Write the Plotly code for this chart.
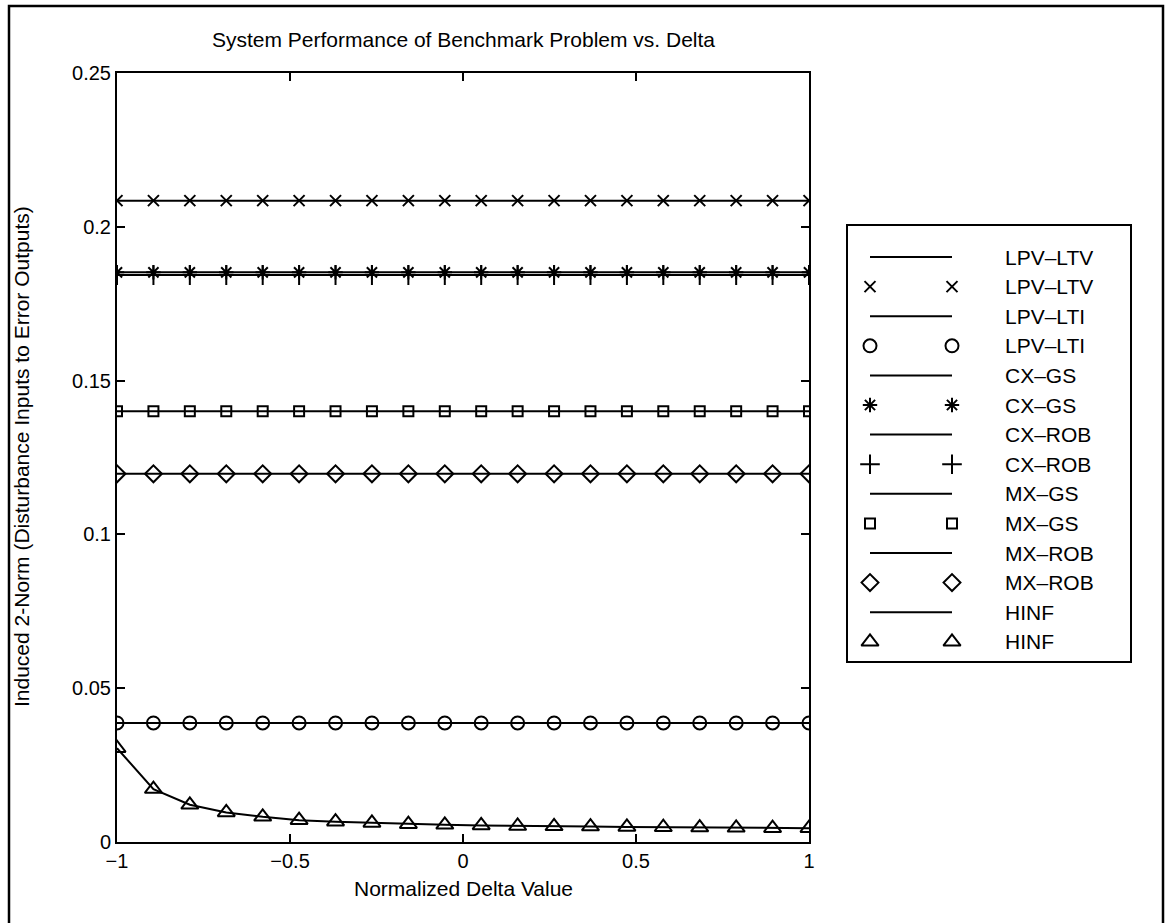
import plotly.graph_objects as go

# ---------------- data ----------------
delta = [-1.0, -0.8947, -0.7895, -0.6842, -0.5789, -0.4737, -0.3684, -0.2632,
         -0.1579, -0.0526, 0.0526, 0.1579, 0.2632, 0.3684, 0.4737, 0.5789,
         0.6842, 0.7895, 0.8947, 1.0]

lpv_ltv = [0.2085] * 20
lpv_lti = [0.0387] * 20
cx_gs = [0.1852] * 20
cx_rob = [0.1843] * 20
mx_gs = [0.1400] * 20
mx_rob = [0.1197] * 20
hinf = [0.0305, 0.0172, 0.0121, 0.0096, 0.0082, 0.0071, 0.0066, 0.0062,
        0.0058, 0.0056, 0.0054, 0.0052, 0.0051, 0.0050, 0.0049, 0.0048,
        0.0047, 0.0046, 0.0045, 0.0045]

series_names = ["LPV–LTV", "LPV–LTI", "CX–GS", "CX–ROB", "MX–GS", "MX–ROB", "HINF"]
series_values = [lpv_ltv, lpv_lti, cx_gs, cx_rob, mx_gs, mx_rob, hinf]
series_symbols = ["x-thin-open", "circle-open", "asterisk-open", "cross-thin-open",
                  "square-open", "diamond-open", "triangle-up-open"]
series_msize = [11, 13, 12, 14, 10, 13, 15]

x_ticks = [-1, -0.5, 0, 0.5, 1]
x_ticklabels = ["−1", "−0.5", "0", "0.5", "1"]
y_ticks = [0, 0.05, 0.1, 0.15, 0.2, 0.25]
y_ticklabels = ["0", "0.05", "0.1", "0.15", "0.2", "0.25"]

title_text = "System Performance of Benchmark Problem vs. Delta"
x_title = "Normalized Delta Value"
y_title = "Induced 2-Norm (Disturbance Inputs to Error Outputs)"

# ---------------- layout constants ----------------
W, H = 1165, 923
FONT = "Liberation Sans, Arial, Helvetica, sans-serif"
FS = 21
FS_TICK = 20
LW = 2


def px_x(p):
    return p / W


def px_y(p):
    return 1 - p / H


fig = go.Figure()

for name, vals, sym, ms in zip(series_names, series_values, series_symbols, series_msize):
    fig.add_trace(go.Scatter(
        x=delta, y=vals, mode="lines+markers", name=name, showlegend=False,
        line=dict(color="black", width=LW),
        marker=dict(symbol=sym, size=ms, color="black",
                    line=dict(color="black", width=LW)),
        xaxis="x", yaxis="y"))

# ---------------- hand-made MATLAB style legend (second axes) ----------------
LEG_W, LEG_H = 282, 435          # legend box in px
row0, row_step = 31, 29.6
seg_x0, seg_x1, text_x = 22, 104, 155

annotations = []
for i, (name, sym, ms) in enumerate(zip(series_names, series_symbols, series_msize)):
    y_line = row0 + (2 * i) * row_step
    y_mark = row0 + (2 * i + 1) * row_step
    fig.add_trace(go.Scatter(
        x=[seg_x0, seg_x1], y=[y_line, y_line], mode="lines", showlegend=False,
        line=dict(color="black", width=LW), xaxis="x2", yaxis="y2",
        hoverinfo="skip"))
    fig.add_trace(go.Scatter(
        x=[seg_x0, seg_x1], y=[y_mark, y_mark], mode="markers", showlegend=False,
        marker=dict(symbol=sym, size=ms, color="black",
                    line=dict(color="black", width=LW)),
        xaxis="x2", yaxis="y2", hoverinfo="skip"))
    for yy in (y_line, y_mark):
        annotations.append(dict(
            x=text_x, y=yy, xref="x2", yref="y2", text=name, showarrow=False,
            xanchor="left", yanchor="middle",
            font=dict(family=FONT, size=FS, color="black")))

# title and axis titles
annotations.append(dict(x=px_x(463), y=px_y(40), xref="paper", yref="paper",
                        text=title_text, showarrow=False, xanchor="center",
                        yanchor="middle", font=dict(family=FONT, size=FS, color="black")))
annotations.append(dict(x=px_x(463), y=px_y(888), xref="paper", yref="paper",
                        text=x_title, showarrow=False, xanchor="center",
                        yanchor="middle", font=dict(family=FONT, size=FS, color="black")))
annotations.append(dict(x=px_x(21), y=px_y(457), xref="paper", yref="paper",
                        text=y_title, showarrow=False, xanchor="center",
                        yanchor="middle", textangle=-90,
                        font=dict(family=FONT, size=FS, color="black")))

axis_common = dict(showgrid=False, zeroline=False, showline=True, linecolor="black",
                   linewidth=LW, ticks="inside", ticklen=8, tickwidth=1.5,
                   tickcolor="black", mirror="ticks",
                   tickfont=dict(family=FONT, size=FS_TICK, color="black"))

fig.update_layout(
    width=W, height=H,
    margin=dict(l=0, r=0, t=0, b=0, autoexpand=False),
    paper_bgcolor="white", plot_bgcolor="white",
    xaxis=dict(domain=[px_x(117), px_x(809)], range=[-1, 1],
               tickvals=x_ticks, ticktext=x_ticklabels, anchor="y", **axis_common),
    yaxis=dict(domain=[px_y(842), px_y(73)], range=[0, 0.25],
               tickvals=y_ticks, ticktext=y_ticklabels, anchor="x", **axis_common),
    xaxis2=dict(domain=[px_x(848), px_x(848 + LEG_W)], range=[0, LEG_W],
                showgrid=False, zeroline=False, showline=True, mirror=True,
                linecolor="black", linewidth=LW, showticklabels=False,
                ticks="", anchor="y2", fixedrange=True),
    yaxis2=dict(domain=[px_y(226 + LEG_H), px_y(226)], range=[LEG_H, 0],
                showgrid=False, zeroline=False, showline=True, mirror=True,
                linecolor="black", linewidth=LW, showticklabels=False,
                ticks="", anchor="x2", fixedrange=True),
    annotations=annotations,
    shapes=[dict(type="rect", xref="paper", yref="paper",
                 x0=px_x(9), x1=px_x(1163), y0=-0.02, y1=px_y(6),
                 line=dict(color="black", width=2.5))],
    font=dict(family=FONT, size=FS, color="black"),
)

fig.write_html("out.html", config={"displayModeBar": False},
               post_script="document.body.style.margin='0px';"
                           "document.body.style.overflow='hidden';")
